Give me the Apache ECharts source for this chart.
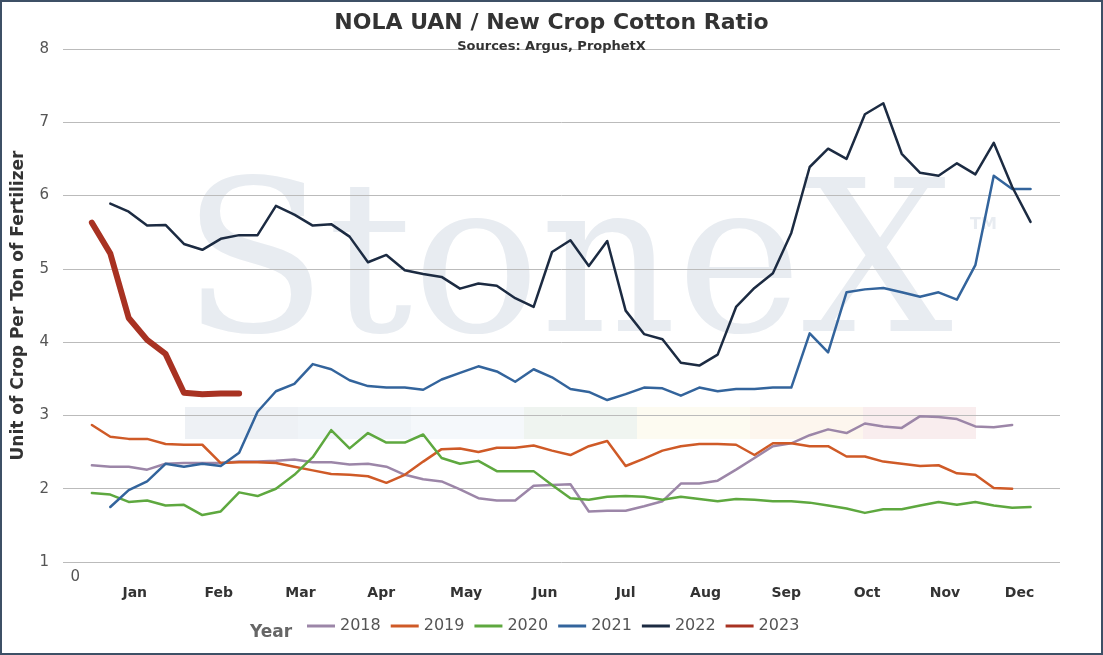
<!DOCTYPE html>
<html>
<head>
<meta charset="utf-8">
<script src="https://cdn.jsdelivr.net/npm/echarts@6/dist/echarts.min.js"></script>
<style>
  html, body { margin: 0; padding: 0; background: #fff; }
  #chart { width: 1099px; height: 651px; border: 2px solid #3d5066; }
</style>
</head>
<body>
<div id="chart"></div>
<script>
// Weekly ratio values, first point of each year sits at week 1 (2021/2022 start at week 2)
const years = ['2018', '2019', '2020', '2021', '2022', '2023'];
const colors = ['#9c86a8', '#cf5a27', '#5ea83f', '#33649c', '#1c2b42', '#a83222'];
const startWeek = [1, 1, 1, 2, 2, 1];

const v2018 = [2.32, 2.30, 2.30, 2.26, 2.34, 2.35, 2.35, 2.35, 2.37, 2.37, 2.38, 2.40, 2.36, 2.36, 2.33, 2.34, 2.30,
  2.19, 2.13, 2.10, 1.99, 1.87, 1.84, 1.84, 2.04, 2.05, 2.06, 1.69, 1.70, 1.70, 1.76, 1.83, 2.07, 2.07, 2.11, 2.26,
  2.42, 2.58, 2.62, 2.73, 2.81, 2.76, 2.89, 2.85, 2.83, 2.99, 2.98, 2.95, 2.85, 2.84, 2.87];
const v2019 = [2.87, 2.71, 2.68, 2.68, 2.61, 2.60, 2.60, 2.35, 2.36, 2.36, 2.35, 2.30, 2.25, 2.20, 2.19, 2.17, 2.08,
  2.19, 2.37, 2.54, 2.55, 2.50, 2.56, 2.56, 2.59, 2.52, 2.46, 2.58, 2.65, 2.31, 2.41, 2.52, 2.58, 2.61, 2.61, 2.60,
  2.46, 2.62, 2.62, 2.58, 2.58, 2.44, 2.44, 2.37, 2.34, 2.31, 2.32, 2.21, 2.19, 2.01, 2.00];
const v2020 = [1.94, 1.92, 1.82, 1.84, 1.77, 1.78, 1.64, 1.69, 1.95, 1.90, 2.00, 2.19, 2.43, 2.80, 2.55, 2.76, 2.63,
  2.63, 2.74, 2.42, 2.34, 2.38, 2.24, 2.24, 2.24, 2.05, 1.87, 1.85, 1.89, 1.90, 1.89, 1.85, 1.89, 1.86, 1.83, 1.86,
  1.85, 1.83, 1.83, 1.81, 1.77, 1.73, 1.67, 1.72, 1.72, 1.77, 1.82, 1.78, 1.82, 1.77, 1.74, 1.75];
const v2021 = [1.75, 1.98, 2.10, 2.34, 2.30, 2.34, 2.31, 2.49, 3.05, 3.33, 3.43, 3.70, 3.63, 3.48, 3.40, 3.38,
  3.38, 3.35, 3.49, 3.58, 3.67, 3.60, 3.46, 3.63, 3.52, 3.36, 3.32, 3.21, 3.29, 3.38, 3.37, 3.27, 3.38, 3.33, 3.36,
  3.36, 3.38, 3.38, 4.12, 3.86, 4.68, 4.72, 4.74, 4.68, 4.62, 4.68, 4.58, 5.05, 6.27, 6.09, 6.09];
const v2022 = [5.89, 5.78, 5.59, 5.60, 5.34, 5.26, 5.41, 5.46, 5.46, 5.86, 5.74, 5.59, 5.61, 5.44, 5.09, 5.19,
  4.98, 4.93, 4.89, 4.73, 4.80, 4.77, 4.60, 4.48, 5.23, 5.39, 5.04, 5.38, 4.43, 4.11, 4.04, 3.72, 3.68, 3.83, 4.48,
  4.74, 4.94, 5.49, 6.39, 6.64, 6.50, 7.11, 7.26, 6.57, 6.31, 6.27, 6.44, 6.29, 6.72, 6.12, 5.64];
const v2023 = [5.63, 5.21, 4.33, 4.03, 3.84, 3.31, 3.29, 3.30, 3.30];
const values = [v2018, v2019, v2020, v2021, v2022, v2023];

// x tick labels (week positions of the month labels)
const monthNames = ['Jan', 'Feb', 'Mar', 'Apr', 'May', 'Jun', 'Jul', 'Aug', 'Sep', 'Oct', 'Nov', 'Dec'];
const monthWeeks = [3.33, 7.89, 12.33, 16.72, 21.33, 25.61, 30.0, 34.34, 38.73, 43.12, 47.35, 51.40];
const tickWeeks = [0.1].concat(monthWeeks);

const chart = echarts.init(document.getElementById('chart'));

const series = years.map(function(y, i) {
  return {
    name: y,
    type: 'line',
    symbol: 'none',
    data: values[i].map(function(v, k) { return [startWeek[i] + k, v]; }),
    lineStyle: { color: colors[i], width: y === '2023' ? 6 : 2.5, cap: 'round', join: 'round' },
    itemStyle: { color: colors[i] },
    z: y === '2023' ? 10 : 5
  };
});

const bandColors = ['#e3e8ee', '#e6ecf3', '#eef3f8', '#e4ede6', '#fbf8e8', '#fcf0e2', '#f5e1e3'];
const bands = bandColors.map(function(c, i) {
  return { type: 'rect', shape: { x: 183 + i * 113, y: 405, width: 113, height: 32 }, style: { fill: c, opacity: 0.6 }, z: -1 };
});

chart.setOption({
  animation: false,
  title: {
    text: 'NOLA UAN / New Crop Cotton Ratio',
    subtext: 'Sources: Argus, ProphetX',
    left: 'center', top: 5, itemGap: 6,
    textStyle: { fontFamily: 'DejaVu Sans', fontWeight: 'bold', fontSize: 22, color: '#333' },
    subtextStyle: { fontFamily: 'DejaVu Sans', fontWeight: 'bold', fontSize: 13, color: '#333' }
  },
  graphic: [
    { type: 'text', left: 180, top: 168, z: -2, style: { text: 'StoneX', font: '212px "DejaVu Serif"', fill: '#e8ecf1' } },
    { type: 'text', left: 968, top: 215, z: -2, style: { text: 'TM', font: 'bold 16px "DejaVu Sans"', fill: '#e8ecf1' } },
    { type: 'text', left: 248, top: 622, style: { text: 'Year', font: 'bold 17px "DejaVu Sans"', fill: '#666' } }
  ].concat(bands),
  legend: {
    bottom: 14, left: 300, itemWidth: 28, itemHeight: 3, itemGap: 10, icon: 'rect',
    textStyle: { fontFamily: 'DejaVu Sans', fontSize: 16, color: '#555' },
    data: years
  },
  grid: { left: 58, right: 41, top: 47, bottom: 91 },
  xAxis: {
    type: 'value', min: -0.57, max: 53.6,
    splitLine: { show: false }, axisLine: { show: false }, axisTick: { show: false },
    axisLabel: {
      customValues: tickWeeks,
      showMinLabel: true, showMaxLabel: true, hideOverlap: false,
      formatter: function(v) {
        const idx = monthWeeks.indexOf(v);
        return idx >= 0 ? '{m|' + monthNames[idx] + '}' : '{z|0}';
      },
      rich: {
        m: { fontFamily: 'DejaVu Sans', fontWeight: 'bold', fontSize: 14, color: '#333', padding: [16, 0, 0, 0] },
        z: { fontFamily: 'DejaVu Sans', fontSize: 15, color: '#555', padding: [0, 0, 0, 0] }
      }
    }
  },
  yAxis: {
    type: 'value', min: 1, max: 8, interval: 1,
    name: 'Unit of Crop Per Ton of Fertilizer', nameLocation: 'middle', nameGap: 36,
    nameTextStyle: { fontFamily: 'DejaVu Sans', fontWeight: 'bold', fontSize: 17, color: '#333' },
    axisLine: { show: false }, axisTick: { show: false },
    axisLabel: { fontFamily: 'DejaVu Sans', fontSize: 15, color: '#555', margin: 14 },
    splitLine: { lineStyle: { color: '#bbb', width: 1 } }
  },
  series: series
});
</script>
</body>
</html>
